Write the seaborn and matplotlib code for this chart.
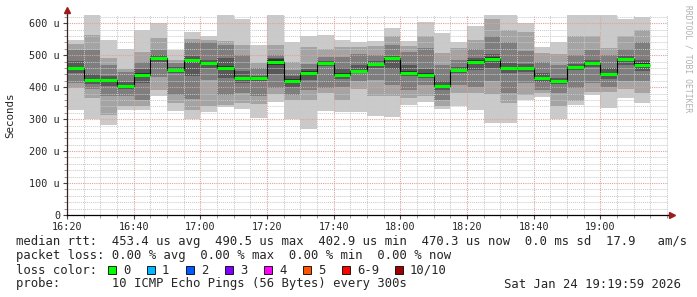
import numpy as np
import pandas as pd
import matplotlib
matplotlib.use("Agg")
import matplotlib.pyplot as plt
from matplotlib.patches import Rectangle
from matplotlib.ticker import MultipleLocator, FixedLocator
import seaborn as sns

# ---- data (microseconds), 5-minute bins starting 16:20 ----
bin_start_min = [0, 5, 10, 15, 20, 25, 30, 35, 40, 45, 50, 55, 60, 65, 70, 75, 80, 85,
                 90, 95, 100, 105, 110, 115, 120, 125, 130, 135, 140, 145, 150, 155, 160, 165, 170]
median = [459, 422, 423, 405, 438, 490.5, 454, 485, 477, 461, 428, 428, 479, 421, 446, 477, 438, 452,
          472, 490, 446, 439, 402.9, 454, 479, 489, 461, 461, 430, 420, 462, 475, 441, 488, 470.3]
# sorted ping ranks 1..10 per bin
p01 = [329, 300, 282, 329, 329, 371, 324, 301, 321, 337, 331, 305, 355, 300, 269, 324, 321, 321,
       311, 306, 345, 355, 332, 340, 329, 287, 287, 360, 370, 301, 345, 376, 334, 366, 350]
p02 = [397, 366, 314, 340, 342, 392, 350, 329, 342, 345, 350, 348, 380, 360, 360, 383, 360, 394,
       371, 371, 366, 371, 340, 381, 381, 379, 350, 376, 381, 342, 357, 385, 386, 394, 381]
p03 = [412, 394, 371, 371, 360, 433, 376, 362, 423, 375, 381, 371, 397, 376, 392, 397, 400, 418,
       423, 407, 392, 407, 360, 407, 402, 420, 381, 412, 392, 381, 397, 412, 402, 420, 418]
p04 = [443, 411, 403, 395, 414, 480, 446, 434, 459, 428, 414, 421, 442, 401, 423, 465, 425, 446,
       460, 458, 434, 428, 391, 446, 455, 459, 443, 447, 417, 410, 453, 464, 427, 469, 451]
p05 = [455, 418, 420, 400, 432, 487, 450, 482, 474, 455, 425, 425, 470, 415, 440, 474, 432, 450,
       468, 486, 442, 435, 398, 450, 472, 488, 458, 458, 427, 417, 459, 472, 438, 484, 468]
p06 = [463, 426, 426, 408, 444, 494, 458, 488, 480, 466, 431, 431, 488, 427, 452, 480, 444, 455,
       476, 494, 450, 443, 406, 458, 486, 496, 464, 464, 433, 423, 465, 478, 444, 492, 476]
p07 = [482, 440, 434, 417, 457, 500, 462, 499, 486, 490, 451, 436, 492, 434, 456, 483, 460, 470,
       481, 498, 468, 456, 418, 462, 493, 505, 475, 474, 443, 429, 474, 486, 461, 497, 485]
p08 = [515, 515, 468, 449, 478, 517, 475, 543, 543, 533, 500, 459, 501, 454, 472, 496, 496, 504,
       501, 532, 511, 522, 470, 485, 520, 560, 540, 514, 480, 470, 501, 515, 500, 519, 540]
p09 = [534, 564, 491, 457, 511, 555, 485, 550, 548, 545, 532, 475, 532, 480, 527, 519, 525, 527,
       530, 560, 530, 560, 506, 522, 548, 613, 579, 574, 506, 505, 560, 560, 524, 560, 580]
p10 = [548, 627, 548, 520, 579, 600, 517, 573, 560, 627, 613, 532, 627, 540, 560, 564, 548, 540,
       545, 584, 545, 603, 569, 542, 592, 627, 627, 600, 527, 543, 627, 627, 627, 613, 620]

x_tick_labels = ["16:20", "16:40", "17:00", "17:20", "17:40", "18:00", "18:20", "18:40", "19:00"]
y_tick_labels = ["0", "100 u", "200 u", "300 u", "400 u", "500 u", "600 u"]

legend_line1 = "median rtt:  453.4 us avg  490.5 us max  402.9 us min  470.3 us now  0.0 ms sd  17.9   am/s"
legend_line2 = "packet loss: 0.00 % avg  0.00 % max  0.00 % min  0.00 % now"
loss_labels = ["0", "1", "2", "3", "4", "5", "6-9", "10/10"]
loss_colors = ["#00ff00", "#00b8ff", "#0059ff", "#7e00ff", "#ff00ff", "#ff5500", "#ff0000", "#a10000"]
probe_text = "probe:       10 ICMP Echo Pings (56 Bytes) every 300s"
date_text = "Sat Jan 24 19:19:59 2026"

# ---- styling ----
sns.set_style("white")
plt.rcParams["font.family"] = ["DejaVu Sans Mono"]

W, H = 697, 297
fig = plt.figure(figsize=(W / 100, H / 100), dpi=100)
fig.patch.set_facecolor("white")
ax_l, ax_r, ax_t, ax_b = 67, 668, 14.7, 215
ax = fig.add_axes([ax_l / W, 1 - ax_b / H, (ax_r - ax_l) / W, (ax_b - ax_t) / H])
ax.set_facecolor("white")

df = pd.DataFrame({"start": bin_start_min, "median": median,
                   "p01": p01, "p02": p02, "p03": p03, "p04": p04, "p05": p05,
                   "p06": p06, "p07": p07, "p08": p08, "p09": p09, "p10": p10})
BIN = 5.0
pairs = [("p01", "p10", "#cacaca"), ("p02", "p09", "#a4a4a4"), ("p03", "p08", "#7e7e7e"),
         ("p04", "p07", "#585858"), ("p05", "p06", "#323232")]
for lo, hi, col in pairs:
    ax.bar(df["start"], df[hi] - df[lo], bottom=df[lo], width=BIN, align="edge",
           color=col, linewidth=0, zorder=1)

# median: dark step connector + green segments
sns.lineplot(data=df, x="start", y="median", drawstyle="steps-post", color="#000000",
             lw=0.8, ax=ax, zorder=3, legend=False)
ax.hlines(df["median"], df["start"], df["start"] + BIN, colors="#00ff00", lw=2.2, zorder=4)

ax.set_xlim(0, 180.3)
ax.set_ylim(0, 627)

# ticks & grid
ax.xaxis.set_major_locator(FixedLocator(np.arange(0, 161, 20)))
ax.xaxis.set_minor_locator(MultipleLocator(5))
ax.set_xticklabels(x_tick_labels)
ax.yaxis.set_major_locator(FixedLocator(np.arange(0, 601, 100)))
ax.yaxis.set_minor_locator(MultipleLocator(20))
ax.set_yticklabels(y_tick_labels)
ax.tick_params(axis="both", which="major", labelsize=7.3, length=3, width=0.8, color="#444444",
               direction="out", pad=2, left=True, bottom=True)
ax.tick_params(axis="both", which="minor", length=2, width=0.6, color="#888888", direction="out",
               left=True, bottom=True)
ax.set_axisbelow(False)
ax.grid(which="minor", color="#c8c8c8", lw=0.7, linestyle=(0, (1, 1)), zorder=2)
ax.grid(which="major", color="#e0a0a0", lw=0.8, linestyle=(0, (1, 1)), zorder=2)

for s in ["top", "right"]:
    ax.spines[s].set_visible(False)
ax.spines["left"].set_color("#3a2020")
ax.spines["bottom"].set_color("#000000")
ax.spines["left"].set_linewidth(0.9)
ax.spines["bottom"].set_linewidth(0.9)
ax.spines["left"].set_zorder(6)
ax.spines["bottom"].set_zorder(6)

# axis arrows
arrow_col = "#9b1c1c"
ax.plot([0, 0], [1.0, 1.02], transform=ax.transAxes, color="#3a2020", lw=0.9, clip_on=False)
ax.plot([0], [1.025], marker="^", ms=4.5, color=arrow_col, transform=ax.transAxes, clip_on=False)
ax.plot([1.0, 1.003], [0, 0], transform=ax.transAxes, color="#000000", lw=0.9, clip_on=False)
ax.plot([1.006], [0], marker=">", ms=4.5, color=arrow_col, transform=ax.transAxes, clip_on=False)

ax.set_xlabel("")
ax.set_ylabel("Seconds", fontsize=7.8, va="center")
ax.yaxis.set_label_coords(-(ax_l - 10) / (ax_r - ax_l), 0.5)

# RRDtool watermark
fig.text(688 / W, 1 - 5 / H, "RRDTOOL / TOBI OETIKER", rotation=270, fontsize=5.8,
         color="#b0b0b0", ha="center", va="top")

# legend text
fs = 8.8
def fy(y):
    return 1 - y / H
fig.text(16 / W, fy(241), legend_line1, fontsize=fs, va="center", ha="left")
fig.text(16 / W, fy(256), legend_line2, fontsize=fs, va="center", ha="left")
fig.text(16 / W, fy(270), "loss color:", fontsize=fs, va="center", ha="left")
box_x = [108, 147, 186, 225, 264, 303, 342, 395]
for bx, lab, col in zip(box_x, loss_labels, loss_colors):
    fig.add_artist(Rectangle((bx / W, fy(274)), 8 / W, 8 / H, transform=fig.transFigure,
                             facecolor=col, edgecolor="black", lw=0.6))
    fig.text((bx + 15) / W, fy(270), lab, fontsize=fs, va="center", ha="left")
fig.text(16 / W, fy(284), probe_text, fontsize=fs, va="center", ha="left")
fig.text(681 / W, fy(284), date_text, fontsize=fs, va="center", ha="right")

fig.savefig("out.png", dpi=100, facecolor="white")
